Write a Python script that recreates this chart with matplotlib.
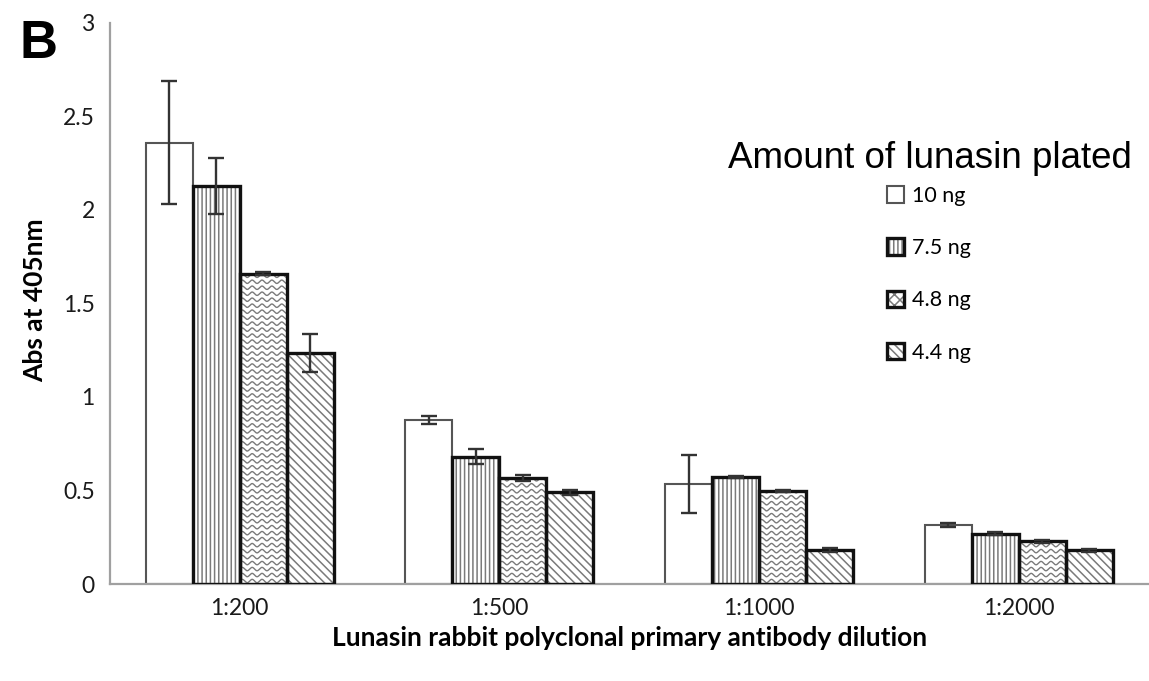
import numpy as np
import matplotlib.pyplot as plt
from matplotlib.patches import Patch
from matplotlib.legend_handler import HandlerTuple

dilutions = ["1:200", "1:500", "1:1000", "1:2000"]
amounts = ["10 ng", "7.5 ng", "4.8 ng", "4.4 ng"]

abs_10 = [2.36, 0.877, 0.535, 0.316]
abs_75 = [2.13, 0.68, 0.572, 0.27]
abs_48 = [1.66, 0.567, 0.497, 0.23]
abs_44 = [1.235, 0.49, 0.18, 0.18]

err_10 = [0.33, 0.02, 0.155, 0.01]
err_75 = [0.15, 0.04, 0.005, 0.01]
err_48 = [0.01, 0.015, 0.005, 0.008]
err_44 = [0.10, 0.012, 0.01, 0.008]

series = [abs_10, abs_75, abs_48, abs_44]
errors = [err_10, err_75, err_48, err_44]

plt.rcParams["font.family"] = ["Lato", "DejaVu Sans"]
plt.rcParams["hatch.linewidth"] = 1.1
plt.rcParams["hatch.color"] = "#7a7a7a"

fig = plt.figure(figsize=(11.49, 6.81), dpi=100)
ax = fig.add_axes([0.0957, 0.1424, 0.904, 0.824])

x = np.arange(len(dilutions))
w = 0.181
offsets = [-1.5 * w, -0.5 * w, 0.5 * w, 1.5 * w]
hatches = [None, "||||", None, "\\\\\\\\"]

handles = []
for i, (vals, errs) in enumerate(zip(series, errors)):
    pos = x + offsets[i]
    if i == 0:
        b = ax.bar(pos, vals, w, color="white", edgecolor="#555555", linewidth=1.5, zorder=2)
        handles.append(b)
    else:
        fill = ax.bar(pos, vals, w, color="white", edgecolor="#7a7a7a", linewidth=0,
                      hatch=hatches[i], zorder=2)
        edge = ax.bar(pos, vals, w, fill=False, edgecolor="#111111", linewidth=2.4, zorder=3)
        if i == 2:
            # wavy fill for the 4.8 ng bars
            for rect in fill.patches:
                x0 = rect.get_x()
                h = rect.get_height()
                xs = np.linspace(x0, x0 + w, 200)
                for y0 in np.arange(0.016, h + 0.03, 0.032):
                    ys = y0 + 0.009 * np.sin(2 * np.pi * (xs - x0) / 0.038)
                    ln, = ax.plot(xs, ys, color="#7a7a7a", lw=1.0, zorder=2.5)
                    ln.set_clip_path(rect)
            legend_fill = Patch(facecolor="white", edgecolor="#7a7a7a", linewidth=0, hatch="xxx")
            handles.append((legend_fill, edge))
        else:
            handles.append((fill, edge))
    ax.errorbar(pos, vals, yerr=errs, fmt="none", ecolor="#333333", elinewidth=1.7,
                capsize=5.5, capthick=1.7, zorder=4)

ax.set_xlim(-0.5, 3.5)
ax.set_ylim(0, 3)
ax.set_yticks([0, 0.5, 1, 1.5, 2, 2.5, 3])
ax.set_yticklabels(["0", "0.5", "1", "1.5", "2", "2.5", "3"])
ax.set_xticks(x)
ax.set_xticklabels(dilutions)
ax.tick_params(axis="both", length=0, labelsize=16.5, colors="#1a1a1a")
ax.tick_params(axis="y", pad=11)
ax.tick_params(axis="x", pad=10)

for s in ["top", "right"]:
    ax.spines[s].set_visible(False)
ax.spines["left"].set_color("#a0a0a0")
ax.spines["bottom"].set_color("#a0a0a0")
ax.spines["left"].set_linewidth(1.6)
ax.spines["bottom"].set_linewidth(1.6)

ax.set_ylabel("Abs at 405nm", fontsize=19, fontweight="bold")
ax.yaxis.set_label_coords(-0.06, 0.505)
ax.set_xlabel("Lunasin rabbit polyclonal primary antibody dilution", fontsize=19,
              fontweight="bold", labelpad=5)

fig.text(930 / 1149, 1 - 158 / 681, "Amount of lunasin plated", fontsize=26.5,
         ha="center", va="center", family=["Liberation Sans", "DejaVu Sans"])

leg = fig.legend(handles, amounts, frameon=False, loc="upper left",
                 bbox_to_anchor=(876 / 1149, 1 - 175 / 681), fontsize=15.5,
                 borderpad=0, handlelength=0.8, handleheight=0.8, handletextpad=0.35,
                 labelspacing=1.5, handler_map={tuple: HandlerTuple(ndivide=1)})

fig.text(0.017, 0.915, "B", fontsize=38, fontweight="bold",
         family=["Liberation Sans", "DejaVu Sans"])

fig.savefig("out.png", dpi=100)
